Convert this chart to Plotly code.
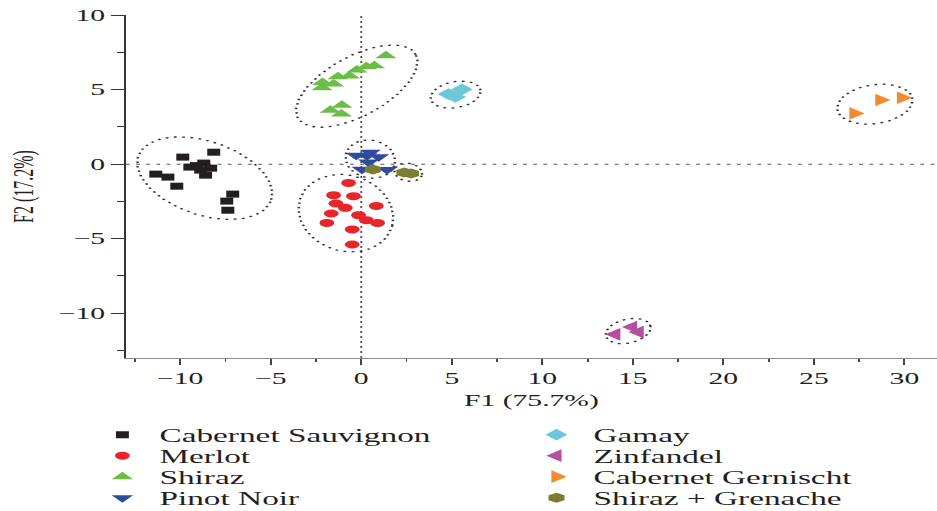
import numpy as np
import plotly.graph_objects as go

# ---- PCA scores (F1, F2) of the wine samples, one pair of lists per variety ----
cs_f1 = [-9.86, -8.15, -9.47, -8.70, -8.87, -8.32, -8.60, -9.10, -11.35, -10.68, -10.19, -7.10, -7.43, -7.37]
cs_f2 = [0.47, 0.80, -0.20, 0.07, -0.40, -0.27, -0.74, -0.10, -0.67, -0.87, -1.48, -2.01, -2.48, -3.09]

merlot_f1 = [-0.70, -1.53, -0.43, -1.40, -0.88, 0.83, -1.66, -0.15, 0.28, -1.90, 0.90, -0.50, -0.50]
merlot_f2 = [-1.26, -2.08, -2.15, -2.64, -2.93, -2.80, -3.31, -3.42, -3.76, -3.94, -3.94, -4.38, -5.39]

shiraz_f1 = [1.36, 0.72, 0.28, -0.24, -0.65, -1.29, -1.53, -2.14, -2.17, -1.07, -1.71, -1.10]
shiraz_f2 = [7.27, 6.60, 6.53, 6.31, 5.91, 5.86, 5.37, 5.48, 5.12, 3.94, 3.62, 3.36]

pinot_f1 = [-0.28, 0.50, 0.96, 0.31, 0.40, 0.04, 1.42]
pinot_f2 = [0.60, 0.79, 0.49, 0.56, 0.15, -0.34, -0.36]

gamay_f1 = [4.82, 5.56, 5.19]
gamay_f2 = [4.70, 5.01, 4.50]

zin_f1 = [14.03, 14.96, 15.32]
zin_f2 = [-11.41, -10.92, -11.26]

cg_f1 = [27.24, 28.67, 29.87]
cg_f2 = [3.40, 4.30, 4.45]

sg_f1 = [0.64, 2.38, 2.75]
sg_f2 = [-0.36, -0.56, -0.62]

x_ticks = [-10, -5, 0, 5, 10, 15, 20, 25, 30]
y_ticks = [-10, -5, 0, 5, 10]

# ---- page geometry (the figure is drawn narrow and widened horizontally on the page) ----
PAGE_W = 937
BASE_W = 506
STRETCH = PAGE_W / BASE_W
H = 511
M_L = 125 / STRETCH
M_T = 15
M_B = 153
X_RANGE = [-13, 31.8]
Y_RANGE = [-13, 10]
PX_X = (BASE_W - M_L) * STRETCH / (X_RANGE[1] - X_RANGE[0])   # page px per F1 unit
PX_Y = (H - M_T - M_B) / (Y_RANGE[1] - Y_RANGE[0])           # page px per F2 unit
PLOT_H = H - M_T - M_B

FONT = "Liberation Serif"
INK = "#231f20"

# group outlines: centre (F1, F2), semi-axes in page px, tilt in degrees
groups = {
    "Cabernet Sauvignon": (-8.65, -0.94, 70, 37, -18),
    "Shiraz": (-0.25, 5.23, 67, 30, 28),
    "Merlot": (-0.85, -3.29, 48, 38, -15),
    "Pinot Noir": (0.50, 0.34, 25, 19, -10),
    "Shiraz + Grenache": (2.60, -0.54, 14, 9, -10),
    "Gamay": (5.21, 4.66, 25.5, 13, 10),
    "Cabernet Gernischt": (28.37, 4.02, 38, 19.5, 8),
    "Zinfandel": (14.74, -11.19, 23, 12, 12),
}


def outline(cx, cy, rx, ry, ang, n=160):
    t = np.linspace(0, 2 * np.pi, n)
    a = np.deg2rad(ang)
    ex = rx * np.cos(t) * np.cos(a) - ry * np.sin(t) * np.sin(a)
    ey = rx * np.cos(t) * np.sin(a) + ry * np.sin(t) * np.cos(a)
    return cx + ex / PX_X, cy + ey / PX_Y


fig = go.Figure()

# zero reference lines
fig.add_shape(type="line", xref="x", yref="paper", x0=0, x1=0, y0=0, y1=1,
              line=dict(color="#555", width=1, dash="2px,3px"), layer="below")
fig.add_shape(type="line", xref="paper", yref="y", x0=0, x1=1, y0=0, y1=0,
              line=dict(color="#555", width=1, dash="2px,3.5px"), layer="below")

for name, (cx, cy, rx, ry, ang) in groups.items():
    ox, oy = outline(cx, cy, rx, ry, ang)
    fig.add_trace(go.Scatter(x=ox, y=oy, mode="lines", showlegend=False, hoverinfo="skip",
                             line=dict(color="#333", width=1.3, dash="1.5px,3px")))

# (name, F1, F2, symbol, colour, size, legend column, legend row)
series = [
    ("Cabernet Sauvignon", cs_f1, cs_f2, "square", "#231f20", 7, 0, 0),
    ("Merlot", merlot_f1, merlot_f2, "circle", "#e8252b", 8, 0, 1),
    ("Shiraz", shiraz_f1, shiraz_f2, "triangle-up", "#6abd45", 10, 0, 2),
    ("Pinot Noir", pinot_f1, pinot_f2, "triangle-down", "#2f4b9d", 10, 0, 3),
    ("Gamay", gamay_f1, gamay_f2, "diamond", "#6cc8d6", 9, 1, 0),
    ("Zinfandel", zin_f1, zin_f2, "triangle-left", "#b44fa2", 11, 1, 1),
    ("Cabernet Gernischt", cg_f1, cg_f2, "triangle-right", "#f58a2c", 11, 1, 2),
    ("Shiraz + Grenache", sg_f1, sg_f2, "hexagon", "#7c7c35", 10, 1, 3),
]

LEG_COL_X = [-0.050, 0.4852]          # paper x of each legend column
LEG_ROW0 = 435                         # page y of the first legend row
LEG_ROW_GAP = 21                       # page px between legend rows

legends = {}
for i, (name, xs, ys, sym, col, size, lc, lr) in enumerate(series):
    key = "legend" if i == 0 else f"legend{i + 1}"
    fig.add_trace(go.Scatter(x=xs, y=ys, mode="markers", name=name, legend=key,
                             marker=dict(symbol=sym, color=col, size=size, line=dict(width=0))))
    row_y = LEG_ROW0 + lr * LEG_ROW_GAP
    legends[key] = dict(x=LEG_COL_X[lc], y=(H - M_B - row_y) / PLOT_H,
                        xanchor="left", yanchor="middle", bgcolor="rgba(0,0,0,0)",
                        font=dict(family=FONT, size=18, color=INK), itemwidth=30)

fig.update_layout(
    width=BASE_W, height=H,
    margin=dict(l=M_L, r=0, t=M_T, b=M_B, autoexpand=False),
    plot_bgcolor="white", paper_bgcolor="white",
    font=dict(family=FONT, size=16, color=INK),
    xaxis=dict(range=X_RANGE, tickvals=x_ticks, showgrid=False, zeroline=False,
               showline=True, linecolor="#8a8a8a", linewidth=1,
               ticks="outside", ticklen=6, tickwidth=1, tickcolor="#444",
               minor=dict(dtick=2.5, tick0=0, ticks="outside", ticklen=3, tickcolor="#444"),
               tickfont=dict(family=FONT, size=16, color=INK),
               title=dict(text="F1 (75.7%)", standoff=8, font=dict(family=FONT, size=16, color=INK))),
    yaxis=dict(range=Y_RANGE, tickvals=y_ticks, showgrid=False, zeroline=False,
               showline=True, linecolor="#333", linewidth=1,
               ticks="outside", ticklen=7, tickwidth=1, tickcolor="#333",
               minor=dict(dtick=2.5, tick0=0, ticks="outside", ticklen=4, tickcolor="#333"),
               tickfont=dict(family=FONT, size=16, color=INK),
               title=dict(text="F2 (17.2%)", standoff=9, font=dict(family=FONT, size=16, color=INK))),
)
fig.update_layout(**legends)

post = ("var gd=document.getElementById('{plot_id}');"
        "document.body.style.margin='0';"
        "gd.style.transformOrigin='0 0';"
        "gd.style.transform='scale(" + str(STRETCH) + ",1)';")
fig.write_html("out.html", post_script=post, config={"displayModeBar": False})
